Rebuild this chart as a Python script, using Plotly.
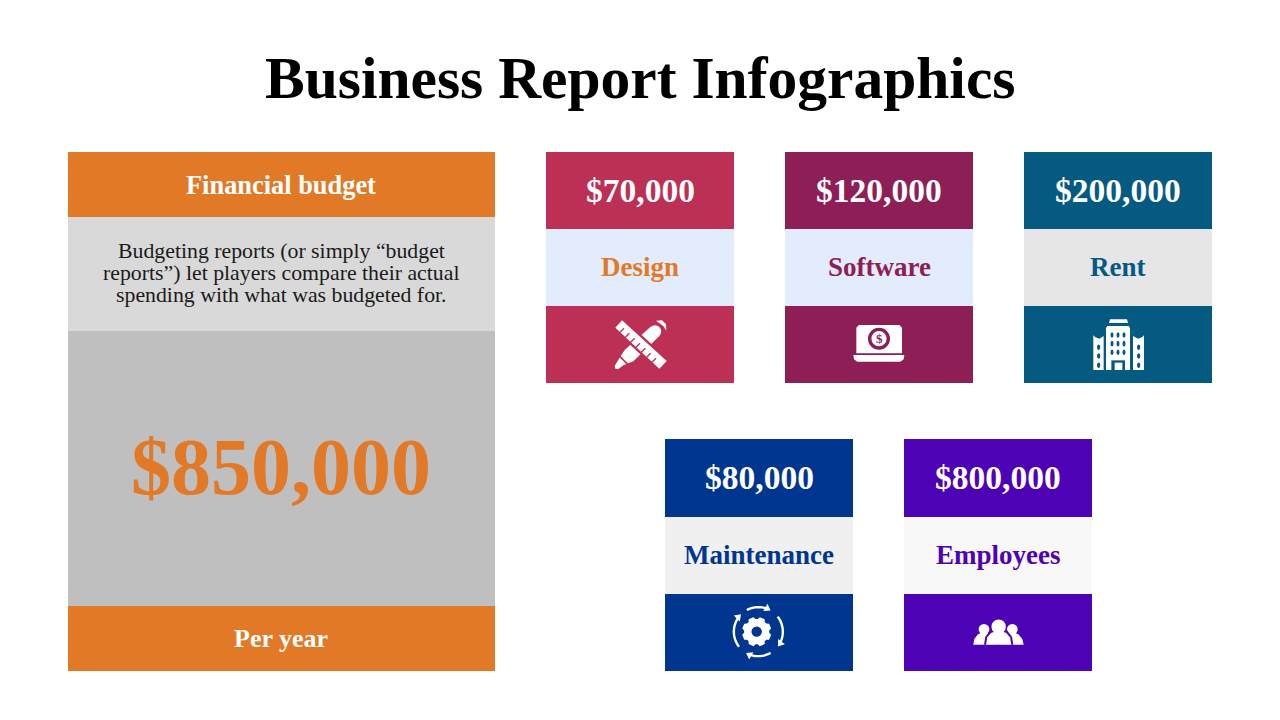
import math
import plotly.graph_objects as go

# values and labels
title = "Business Report Infographics"
panel_head = "Financial budget"
panel_text = ["Budgeting reports (or simply “budget", "reports”) let players compare their actual", "spending with what was budgeted for."]
panel_total = 850000
panel_foot = "Per year"

card_names = ["Design", "Software", "Rent", "Maintenance", "Employees"]
card_values = [70000, 120000, 200000, 80000, 800000]
card_colors = ["#BC3055", "#8E1E56", "#055A82", "#00368F", "#4E02B5"]
card_label_bg = ["#E2ECFC", "#E2ECFC", "#E6E6E6", "#F0F0F0", "#F8F8F8"]
card_label_colors = ["#E27927", "#8E1E56", "#055A82", "#00368F", "#4E02B5"]
card_x = [546, 785, 1024, 665, 904]
card_y = [152, 152, 152, 439, 439]

ORANGE = "#E27927"
SERIF = "Liberation Serif"
shapes = []
notes = []


def rect(x0, y0, x1, y1, color):
    shapes.append(dict(type="rect", x0=x0, y0=y0, x1=x1, y1=y1, fillcolor=color, line_width=0))


def circle(cx, cy, r, color):
    shapes.append(dict(type="circle", x0=cx - r, y0=cy - r, x1=cx + r, y1=cy + r, fillcolor=color, line_width=0))


def poly(points, color):
    path = "M " + " L ".join(f"{x:.2f},{y:.2f}" for x, y in points) + " Z"
    shapes.append(dict(type="path", path=path, fillcolor=color, line_width=0))


def stroke(points, color, width):
    path = "M " + " L ".join(f"{x:.2f},{y:.2f}" for x, y in points)
    shapes.append(dict(type="path", path=path, line=dict(color=color, width=width)))


def text(x, y, s, size, color, bold=True):
    label = f"<b>{s}</b>" if bold else s
    notes.append(dict(x=x, y=y, text=label, showarrow=False, xanchor="center", yanchor="middle",
                      font=dict(family=SERIF, size=size, color=color)))


# icons are sketched in zoomed px (3x), ox/oy is the bottom block of the card
def icon_design(ox, oy, bg):
    z = lambda pts: [(ox + a / 3, oy + b / 3) for a, b in pts]
    # pencil
    circle(ox + 327 / 3, oy + 76 / 3, 6.2, "white")
    poly(z([(314, 62), (341, 89), (262, 166), (232, 178), (216, 190), (208, 188), (206, 180), (218, 160), (236, 132)]), "white")
    stroke(z([(222, 152), (246, 176)]), bg, 1.6)
    poly(z([(330, 44), (348, 43), (360, 55), (361, 74), (352, 60)]), "white")
    # ruler with a gap around it
    poly(z([(228, 33), (372, 165), (340, 198), (198, 65)]), bg)
    poly(z([(228, 43), (362, 165), (340, 188), (208, 65)]), "white")
    for a, b in [(222, 79), (238, 94), (254, 109), (270, 124), (286, 139), (302, 154), (318, 169)]:
        stroke(z([(a, b), (a + 12, b - 12)]), bg, 1.3)


def icon_laptop(ox, oy, bg):
    z = lambda pts: [(ox + a / 3, oy + b / 3) for a, b in pts]
    poly(z([(222, 57), (343, 57), (351, 65), (351, 142), (214, 142), (214, 65)]), "white")
    poly(z([(205, 147), (358, 147), (356, 160), (346, 167), (217, 167), (207, 160)]), "white")
    circle(ox + 282 / 3, oy + 98 / 3, 11, bg)
    circle(ox + 282 / 3, oy + 98 / 3, 7.6, "white")
    text(ox + 282 / 3, oy + 98 / 3, "$", 13, bg)


def icon_building(ox, oy, bg):
    z = lambda pts: [(ox + a / 3, oy + b / 3) for a, b in pts]
    poly(z([(258, 40), (309, 40), (312, 51), (255, 51)]), "white")
    poly(z([(250, 60), (314, 60), (318, 66), (318, 192), (246, 192), (246, 66)]), "white")
    for a in (264, 282, 300):
        for b in (87, 113, 139):
            shapes.append(dict(type="circle", x0=ox + (a - 4.5) / 3, y0=oy + (b - 8.5) / 3, x1=ox + (a + 4.5) / 3,
                               y1=oy + (b + 8.5) / 3, fillcolor=bg, line_width=0))
    rect(ox + 262 / 3, oy + 163 / 3, ox + 303 / 3, oy + 192 / 3, bg)
    rect(ox + 272 / 3, oy + 170 / 3, ox + 295 / 3, oy + 192 / 3, "white")
    poly(z([(208, 88), (214, 94), (226, 98), (239, 90), (239, 192), (208, 192)]), "white")
    poly(z([(360, 88), (354, 94), (342, 98), (327, 90), (327, 192), (360, 192)]), "white")
    for a in (224, 344):
        for b in (124, 150, 178):
            shapes.append(dict(type="circle", x0=ox + (a - 5) / 3, y0=oy + (b - 8.5) / 3, x1=ox + (a + 5) / 3,
                               y1=oy + (b + 8.5) / 3, fillcolor=bg, line_width=0))


def icon_gear(ox, oy, bg):
    cx, cy = ox + 275 / 3, oy + 113 / 3
    pts = []
    for i in range(8):
        mid = i * math.pi / 4 + math.pi / 8
        for da, r in [(-0.3, 12.6), (-0.18, 14.8), (0.18, 14.8), (0.3, 12.6)]:
            pts.append((cx + r * math.cos(mid + da), cy + r * math.sin(mid + da)))
    poly(pts, "white")
    circle(cx, cy, 5.2, bg)
    # four arrows running clockwise around the gear
    ax, ay = ox + 280 / 3, oy + 113 / 3
    for start, end in [(-118, -65), (-38, 32), (60, 115), (142, 220)]:
        arc = [(ax + 24.5 * math.cos(math.radians(start + (end - start) * k / 16)),
                ay + 24.5 * math.sin(math.radians(start + (end - start) * k / 16))) for k in range(17)]
        stroke(arc, "white", 2.4)
        a = math.radians(end + 5)
        tip = (ax + 24.5 * math.cos(a), ay + 24.5 * math.sin(a))
        tx, ty = -math.sin(a), math.cos(a)
        back = (tip[0] - 6 * tx, tip[1] - 6 * ty)
        nx, ny = math.cos(a), math.sin(a)
        poly([tip, (back[0] + 4.2 * nx, back[1] + 4.2 * ny), (back[0] - 4.2 * nx, back[1] - 4.2 * ny)], "white")


def icon_people(ox, oy, bg):
    z = lambda pts: [(ox + a / 3, oy + b / 3) for a, b in pts]
    circle(ox + 240 / 3, oy + 106 / 3, 5.4, "white")
    circle(ox + 325 / 3, oy + 106 / 3, 5.4, "white")
    poly(z([(208, 152), (211, 135), (222, 121), (240, 113), (258, 121), (270, 135), (272, 152)]), "white")
    poly(z([(293, 152), (295, 135), (307, 121), (325, 113), (343, 121), (355, 135), (359, 152)]), "white")
    poly(z([(240, 152), (244, 128), (258, 110), (284, 104), (310, 110), (324, 128), (328, 152)]), bg)
    circle(ox + 284 / 3, oy + 98 / 3, 8.4, bg)
    circle(ox + 284 / 3, oy + 98 / 3, 7.2, "white")
    poly(z([(246, 152), (250, 130), (262, 116), (284, 110), (306, 116), (318, 130), (322, 152)]), "white")


# left panel
rect(68, 152, 495, 217, ORANGE)
rect(68, 217, 495, 331, "#D9D9D9")
rect(68, 331, 495, 606, "#BFBFBF")
rect(68, 606, 495, 671, ORANGE)
text(281, 185, panel_head, 26.4, "white")
for line_y, line in zip([251, 273, 295], panel_text):
    text(281, line_y, line, 21.8, "#1A1A1A", bold=False)
text(281, 467, f"${panel_total:,}", 80, ORANGE)
text(281, 638, panel_foot, 26, "white")

text(640, 78, title, 59.5, "black")

# cards
icons = [icon_design, icon_laptop, icon_building, icon_gear, icon_people]
for i in range(len(card_names)):
    x, y = card_x[i], card_y[i]
    mid = y + 77 if y == 152 else y + 78
    bot = y + 154 if y == 152 else y + 155
    rect(x, y, x + 188, mid, card_colors[i])
    rect(x, mid, x + 188, bot, card_label_bg[i])
    rect(x, bot, x + 188, bot + 77, card_colors[i])
    text(x + 94, y + 38, f"${card_values[i]:,}", 33.5, "white")
    text(x + 94, mid + 38, card_names[i], 27, card_label_colors[i])
    icons[i](x, bot, card_colors[i])

fig = go.Figure()
fig.update_layout(
    width=1280, height=720, margin=dict(l=0, r=0, t=0, b=0),
    paper_bgcolor="white", plot_bgcolor="white", showlegend=False,
    xaxis=dict(range=[0, 1280], visible=False, fixedrange=True),
    yaxis=dict(range=[720, 0], visible=False, fixedrange=True),
    shapes=shapes, annotations=notes,
)
# the page body has an 8px margin by default
fig.write_html("out.html", config={"displayModeBar": False}, post_script="document.body.style.margin='0';")
